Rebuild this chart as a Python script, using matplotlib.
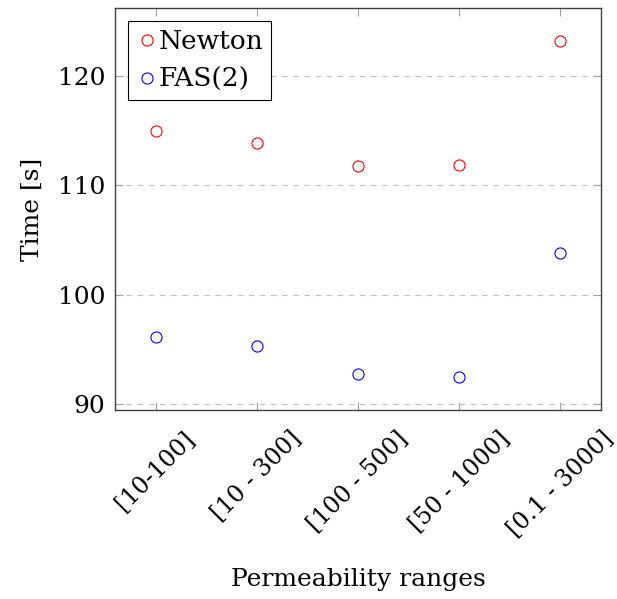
import matplotlib
matplotlib.use("Agg")
import matplotlib.pyplot as plt

# data
ranges = ["[10-100]", "[10 - 300]", "[100 - 500]", "[50 - 1000]", "[0.1 - 3000]"]
newton_time = [115.0, 113.9, 111.8, 111.9, 123.2]
fas2_time = [96.1, 95.3, 92.7, 92.5, 103.8]
y_ticks = [90, 100, 110, 120]

plt.rcParams["font.family"] = ["DejaVu Serif"]

fig = plt.figure(figsize=(6.17, 5.99), dpi=100)
ax = fig.add_axes([0.1864, 0.3155, 0.7876, 0.6711])

x = list(range(len(ranges)))
ax.plot(x, newton_time, linestyle="none", marker="o", markersize=8,
        markerfacecolor="none", markeredgecolor="red", markeredgewidth=0.8,
        label="Newton")
ax.plot(x, fas2_time, linestyle="none", marker="o", markersize=8,
        markerfacecolor="none", markeredgecolor="blue", markeredgewidth=0.8,
        label="FAS(2)")

ax.set_xlim(-0.4, 4.4)
ax.set_ylim(89.45, 126.23)
ax.set_xticks(x)
ax.set_xticklabels(ranges, rotation=45, ha="center", va="top")
ax.set_yticks(y_ticks)

ax.yaxis.grid(True, linestyle=(0, (5, 5)), color="#c0c0c0", linewidth=0.8)
ax.set_axisbelow(True)
ax.tick_params(direction="in", top=True, right=True, length=6, width=0.8,
               color="#a0a0a0", labelsize=18)
ax.tick_params(axis="x", pad=12, labelsize=17)
ax.tick_params(axis="y", pad=7)
for s in ax.spines.values():
    s.set_color("#404040")
    s.set_linewidth(1.0)

ax.set_xlabel("Permeability ranges", fontsize=18, labelpad=19)
ax.set_ylabel("Time [s]", fontsize=18, labelpad=10)

leg = ax.legend(loc="upper left", fontsize=19, frameon=True, fancybox=False,
                edgecolor="black", framealpha=1, handletextpad=0.05,
                handlelength=0.8, borderpad=0.3, labelspacing=0.5,
                borderaxespad=0.5)
leg.get_frame().set_linewidth(0.8)

fig.savefig("out.png", dpi=100)
